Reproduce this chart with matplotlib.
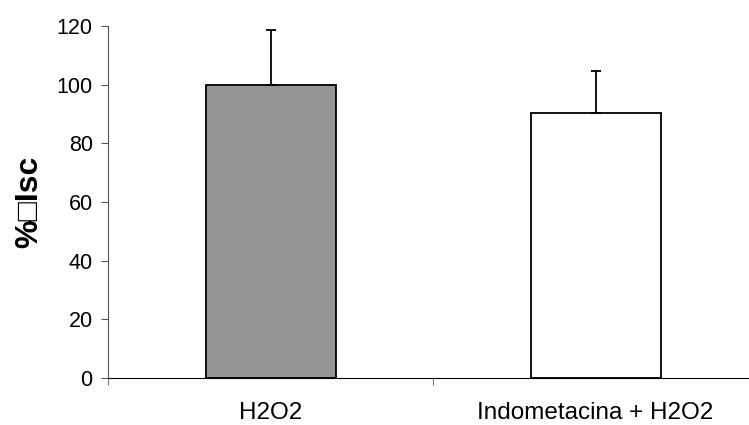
import matplotlib
matplotlib.use('Agg')
import matplotlib.pyplot as plt

plt.rcParams['font.family'] = ['Liberation Sans', 'DejaVu Sans']

categories = ['H2O2', 'Indometacina + H2O2']
values = [100, 90.5]
errors = [18.5, 14.3]
colors = ['#969696', '#ffffff']

fig = plt.figure(figsize=(7.49, 4.25), dpi=100)
ax = fig.add_axes([108 / 749, 47 / 425, 650 / 749, 352 / 425])

x = range(len(categories))
ax.bar(x, values, width=0.4, color=colors, edgecolor='black', linewidth=1.3, zorder=2)
ax.errorbar(x, values, yerr=[[0, 0], errors], fmt='none', ecolor='black',
            elinewidth=1.3, capsize=3.6, capthick=1.3, zorder=3)

ax.set_xlim(-0.5, 1.5)
ax.set_ylim(0, 120)
ax.set_yticks(range(0, 121, 20))
ax.tick_params(axis='y', labelsize=15.5, length=5, color='#555555', pad=6)

ax.set_xticks(list(x))
ax.set_xticklabels(categories, fontsize=17.5)
ax.tick_params(axis='x', which='major', length=0, pad=17)
ax.set_xticks([-0.5, 0.5, 1.5], minor=True)
ax.tick_params(axis='x', which='minor', length=5, color='#555555')

ax.spines['top'].set_visible(False)
ax.spines['right'].set_visible(False)
ax.spines['left'].set_color('#555555')
ax.spines['bottom'].set_color('black')

ax.set_ylabel('%\u25a1Isc', fontsize=23, fontweight='bold', labelpad=9)

fig.savefig('out.png', dpi=100)
